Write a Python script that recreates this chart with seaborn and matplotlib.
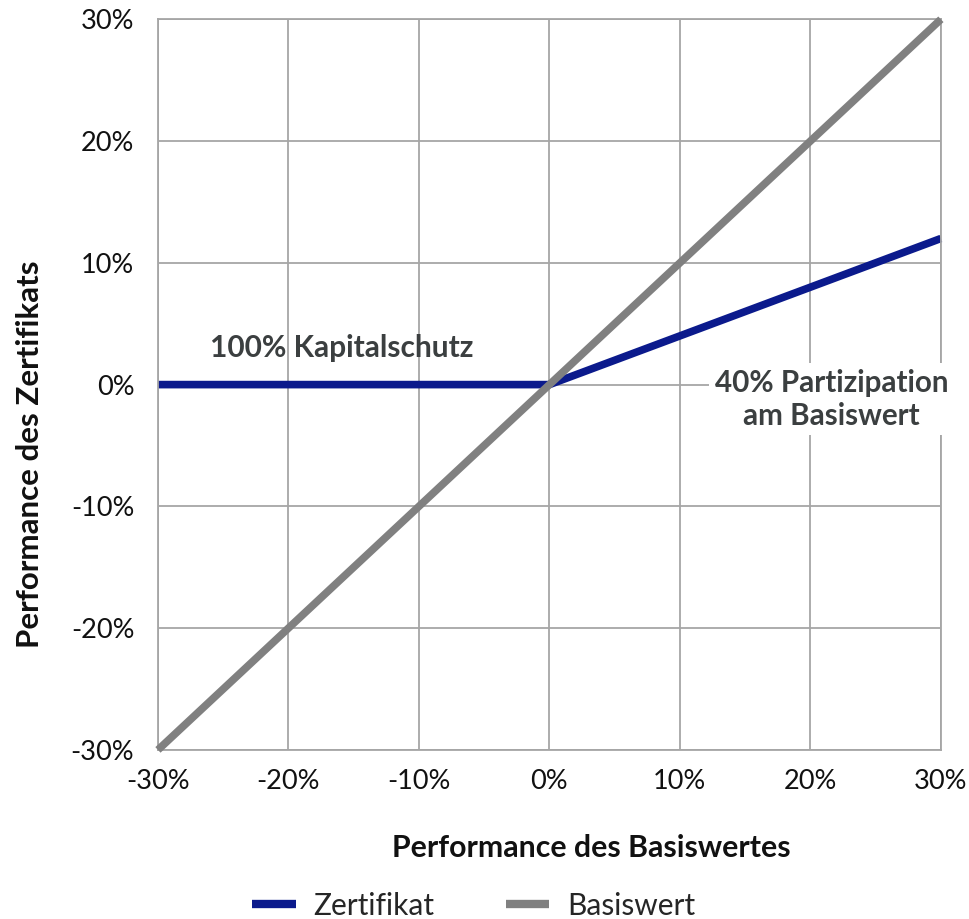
import pandas as pd
import matplotlib
matplotlib.use('Agg')
import matplotlib.pyplot as plt
import seaborn as sns
from matplotlib.ticker import FuncFormatter

# ── Data ──────────────────────────────────────────────────────
basis_perf = [-30, -20, -10, 0, 10, 20, 30]
zertifikat = [0, 0, 0, 0, 4, 8, 12]
basiswert = [-30, -20, -10, 0, 10, 20, 30]
ticks = [-30, -20, -10, 0, 10, 20, 30]

df = pd.DataFrame({
    'x': basis_perf * 2,
    'y': zertifikat + basiswert,
    'Serie': ['Zertifikat'] * len(basis_perf) + ['Basiswert'] * len(basis_perf),
})

sns.set_style('whitegrid')
plt.rcParams['font.family'] = ['Lato', 'DejaVu Sans']

GRID = '#a6a6a6'
TEXT = '#3b3f40'
BLUE = '#0b1a8c'
GREY = '#808080'

fig = plt.figure(figsize=(9.69, 9.19), dpi=100)
ax = fig.add_axes([0.163, 0.184, 0.808, 0.795])

sns.lineplot(data=df, x='x', y='y', hue='Serie',
             palette={'Zertifikat': BLUE, 'Basiswert': GREY},
             hue_order=['Zertifikat', 'Basiswert'],
             linewidth=5.5, ax=ax, legend=False)
for line in ax.get_lines():
    line.set_solid_capstyle('butt')
    line.set_clip_on(False)
ax.get_lines()[1].set_zorder(3)

ax.set_xlim(-30, 30)
ax.set_ylim(-30, 30)
ax.set_xticks(ticks)
ax.set_yticks(ticks)
fmt = FuncFormatter(lambda v, _: f'{v:.0f}%')
ax.xaxis.set_major_formatter(fmt)
ax.yaxis.set_major_formatter(fmt)
ax.grid(True, color=GRID, linewidth=1.3)
for sp in ax.spines.values():
    sp.set_color(GRID)
    sp.set_linewidth(1.3)
ax.tick_params(axis='both', length=6, width=1.3, color=GRID, labelsize=19.5,
               labelcolor='#111111', direction='out')
ax.tick_params(axis='y', pad=11)
ax.tick_params(axis='x', pad=8)

ax.set_xlabel('Performance des Basiswertes', fontsize=21.8, fontweight='bold',
              color='#111111')
ax.xaxis.set_label_coords(0.553, -0.115)
ax.set_ylabel('Performance des Zertifikats', fontsize=22.5, fontweight='bold',
              color='#111111')
ax.yaxis.set_label_coords(-0.145, 0.404)

ax.text(-15.9, 3, '100% Kapitalschutz', fontsize=21.5, fontweight='bold',
        color=TEXT, ha='center', va='center', zorder=5)
ax.text(21.6, -1.2, '40% Partizipation\nam Basiswert', fontsize=21.3,
        fontweight='bold', color=TEXT, ha='center', va='center',
        linespacing=1.2, zorder=5, clip_on=False,
        bbox=dict(facecolor='white', edgecolor='none', pad=4))

handles = [plt.Line2D([], [], color=BLUE, lw=6, solid_capstyle='butt'),
           plt.Line2D([], [], color=GREY, lw=6, solid_capstyle='butt')]
fig.legend(handles, ['Zertifikat', 'Basiswert'], loc='lower center',
           bbox_to_anchor=(0.489, -0.03), ncol=2, frameon=False, fontsize=21.5,
           handlelength=1.45, columnspacing=2.4, handletextpad=0.6)

plt.savefig('out.png', dpi=100)
plt.close()
